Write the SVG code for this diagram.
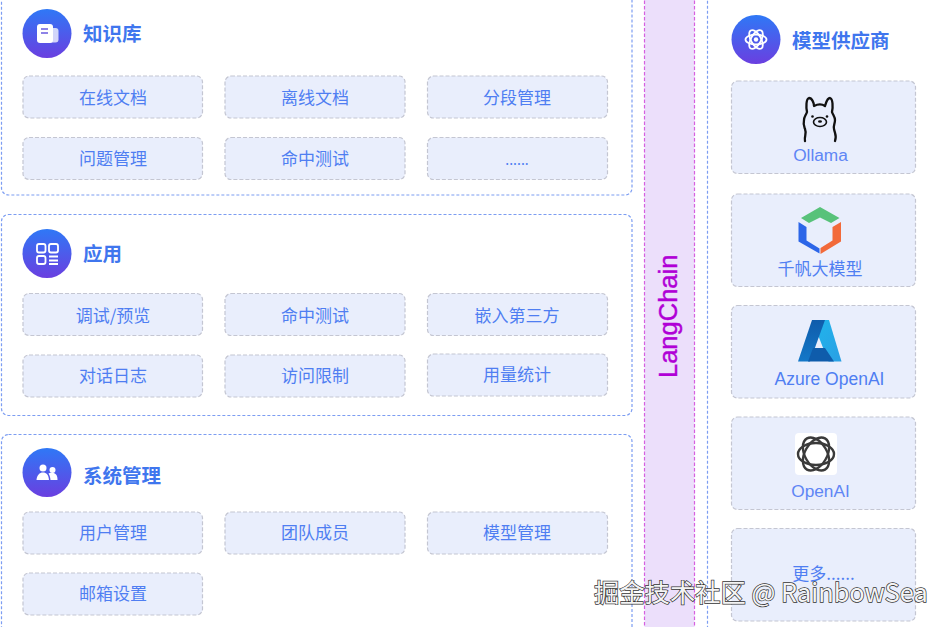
<svg xmlns="http://www.w3.org/2000/svg" width="947" height="627" viewBox="0 0 947 627">
<style>
text{font-family:"Liberation Sans","Noto Sans CJK SC",sans-serif}
.panel{fill:#fff;stroke:#7c9df2;stroke-width:1.200;stroke-dasharray:3 2}
.box{fill:#e9eefc;stroke:#c4c6d2;stroke-width:1.200;stroke-dasharray:4 2}
.t{font-size:17px;fill:#4f7ef2;text-anchor:middle;font-family:"Noto Sans CJK SC","Liberation Sans",sans-serif}
.l{font-size:17.300px;fill:#5f86f5;text-anchor:middle;font-family:"Liberation Sans",sans-serif}
.h{font-size:19.500px;font-weight:700;fill:#3f76ee;font-family:"Noto Sans CJK SC","Liberation Sans",sans-serif}
.ic{fill:none;stroke:#fff;stroke-width:1.800}
</style>
<defs>
<linearGradient id="g" x1="0" y1="0" x2="0" y2="1"><stop offset="0" stop-color="#2f78f6"/><stop offset="1" stop-color="#6a3fe0"/></linearGradient>
<linearGradient id="az" x1="0" y1="0" x2="0" y2="1"><stop offset="0" stop-color="#0f5cab"/><stop offset="1" stop-color="#1478c8"/></linearGradient>
<linearGradient id="az2" x1="0" y1="0" x2="1" y2="1"><stop offset="0" stop-color="#1fb6ec"/><stop offset="1" stop-color="#2a9fe4"/></linearGradient>
</defs>
<rect width="947" height="627" fill="#fff"/>
<g id="connectors"></g>
<g id="panel-kb"><rect class="panel" x="1.500" y="-20" width="630.500" height="215" rx="7"/>
<circle cx="47" cy="33.500" r="24.500" fill="url(#g)"/>
<rect x="43" y="28" width="15.500" height="14.500" rx="3" fill="#fff" opacity=".75"/><rect x="37" y="24" width="16" height="19" rx="3" fill="#fff"/><path d="M41 29h7M41 33h7" stroke="#6a5be0" stroke-width="1.500"/>
<text class="h" x="83" y="40.500">知识库</text></g>
<g id="n1"><rect class="box" x="23" y="76" width="179.500" height="42" rx="6"/><text class="t" x="113" y="103.500">在线文档</text></g>
<g id="n2"><rect class="box" x="225" y="76" width="180" height="42" rx="6"/><text class="t" x="315" y="103.500">离线文档</text></g>
<g id="n3"><rect class="box" x="427.500" y="76" width="180" height="42" rx="6"/><text class="t" x="517" y="103.500">分段管理</text></g>
<g id="n4"><rect class="box" x="23" y="137.500" width="179.500" height="42" rx="6"/><text class="t" x="113" y="165">问题管理</text></g>
<g id="n5"><rect class="box" x="225" y="137.500" width="180" height="42" rx="6"/><text class="t" x="315" y="165">命中测试</text></g>
<g id="n6"><rect class="box" x="427.500" y="137.500" width="180" height="42" rx="6"/><text class="t" x="517" y="165" style="font-size:14px">......</text></g>
<g id="panel-app"><rect class="panel" x="1.500" y="214.500" width="630.500" height="201" rx="7"/>
<circle cx="47" cy="253.500" r="24.500" fill="url(#g)"/>
<g class="ic"><rect x="37" y="244" width="8.500" height="8.500" rx="2"/><rect x="49" y="244" width="9" height="8.500" rx="2"/><rect x="37" y="256" width="8.500" height="8" rx="2"/><path d="M49 256.500h9M49 260.500h9M49 264h9"/></g>
<text class="h" x="83" y="260.500">应用</text></g>
<g id="n7"><rect class="box" x="23" y="293.500" width="179.500" height="42" rx="6"/><text class="t" x="113" y="321.500">调试/预览</text></g>
<g id="n8"><rect class="box" x="225" y="293.500" width="180" height="42" rx="6"/><text class="t" x="315" y="321.500">命中测试</text></g>
<g id="n9"><rect class="box" x="427.500" y="293.500" width="180" height="42" rx="6"/><text class="t" x="517" y="321.500">嵌入第三方</text></g>
<g id="n10"><rect class="box" x="23" y="355" width="179.500" height="42" rx="6"/><text class="t" x="113" y="382">对话日志</text></g>
<g id="n11"><rect class="box" x="225" y="355" width="180" height="42" rx="6"/><text class="t" x="315" y="382">访问限制</text></g>
<g id="n12"><rect class="box" x="427.500" y="354" width="180" height="42" rx="6"/><text class="t" x="517" y="381">用量统计</text></g>
<g id="panel-sys"><rect class="panel" x="1.500" y="434.500" width="630.500" height="220" rx="7"/>
<circle cx="47" cy="472.500" r="24.500" fill="url(#g)"/>
<g fill="#fff"><circle cx="43" cy="468" r="3.500"/><circle cx="52.500" cy="470" r="3"/><path d="M36.500 480c.5-5 3-7.500 6.500-7.500s5.500 2 6 7.500zM50.500 480c-.2-3-1-5-2-6.500 1.500-1 6-1.500 8 1.500 .8 1.500 1 3 1 5z"/></g>
<text class="h" x="83" y="483">系统管理</text></g>
<g id="n13"><rect class="box" x="23" y="512" width="179.500" height="42" rx="6"/><text class="t" x="113" y="539">用户管理</text></g>
<g id="n14"><rect class="box" x="225" y="512" width="180" height="42" rx="6"/><text class="t" x="315" y="539">团队成员</text></g>
<g id="n15"><rect class="box" x="427.500" y="512" width="180" height="42" rx="6"/><text class="t" x="517" y="539">模型管理</text></g>
<g id="n16"><rect class="box" x="23" y="573" width="179.500" height="42" rx="6"/><text class="t" x="113" y="600">邮箱设置</text></g>
<g id="langchain"><rect x="644.500" y="-10" width="50" height="650" fill="#ecdffb" stroke="#d65fe0" stroke-width="1.200" stroke-dasharray="3.500 2"/>
<text transform="translate(677,378) rotate(-90)" font-size="25.500" fill="#b000d6" stroke="#b000d6" stroke-width=".4">LangChain</text></g>
<g id="panel-model"><rect class="panel" x="707.500" y="-20" width="260" height="670" rx="7"/>
<circle cx="756" cy="39.500" r="24.500" fill="url(#g)"/>
<g fill="none" stroke="#fff" stroke-width="1.800"><ellipse cx="756" cy="39.500" rx="10.500" ry="5"/><ellipse cx="756" cy="39.500" rx="10.500" ry="5" transform="rotate(60 756 39.500)"/><ellipse cx="756" cy="39.500" rx="10.500" ry="5" transform="rotate(120 756 39.500)"/></g><circle cx="756" cy="39.500" r="2.200" fill="#fff"/>
<text class="h" x="792" y="47.500">模型供应商</text></g>
<g id="m1"><rect class="box" x="731.500" y="81" width="184" height="92.500" rx="6"/>
<g fill="none" stroke="#111" stroke-width="2.300" stroke-linejoin="round" stroke-linecap="round"><path d="M805 141c-1-5 2-7 0-12-1-3-2-5-1-9 0-3 2-5 3-8-1-5-1-13 2-14 3 0 5 5 5 8 4-2 8-2 11 0 1-3 2-8 5-8 3 1 3 9 2 14 1 3 3 5 3 8 0 4-2 6-1 9 1 5 3 7 1 12"/><ellipse cx="820" cy="122" rx="6.500" ry="4.500" stroke-width="1.600"/></g><circle cx="812.500" cy="116.500" r="1.300" fill="#111"/><circle cx="827" cy="116.500" r="1.300" fill="#111"/><ellipse cx="820" cy="121.500" rx="2" ry="1.200" fill="#111"/>
<text class="l" x="820.500" y="160.500">Ollama</text></g>
<g id="m2"><rect class="box" x="731.500" y="194" width="184" height="92.500" rx="6"/>
<path d="M820 207l19.500 11-8.500 5-11-5.500-11 5.500-8-5z" fill="#58c27a"/><path d="M798.500 222l8 5v13.500l13 8v5l-21-12z" fill="#2c66e8"/><path d="M841 222v19.500l-20.500 12.500v-6l12-7.500v-13.500z" fill="#f26a3a"/>
<text class="t" x="820" y="275">千帆大模型</text></g>
<g id="m3"><rect class="box" x="731.500" y="305.500" width="184" height="92.500" rx="6"/>
<path d="M812 320h17l12.500 41.500h-13z" fill="url(#az2)"/><path d="M812 320h13l-15 41.500h-12z" fill="url(#az)"/><path d="M813 348h12l9 13.500h-26z" fill="#0f5cab"/>
<text class="l" x="829.500" y="385" style="font-size:17.500px;fill:#4f7ef2">Azure OpenAI</text></g>
<g id="m4"><rect class="box" x="731.500" y="417" width="184" height="92.500" rx="6"/>
<rect x="795" y="433" width="42" height="42" rx="4" fill="#fff"/>
<g fill="none" stroke="#3a3a3a" stroke-width="2.400"><ellipse cx="816" cy="454" rx="18" ry="11"/><ellipse cx="816" cy="454" rx="18" ry="11" transform="rotate(60 816 454)"/><ellipse cx="816" cy="454" rx="18" ry="11" transform="rotate(120 816 454)"/></g>
<text class="l" x="820.500" y="496.500">OpenAI</text></g>
<g id="m5"><rect class="box" x="731.500" y="528.500" width="184" height="92.500" rx="6"/><text class="t" x="823.500" y="579.500">更多......</text></g>
<g id="watermark"><text x="594" y="602" font-size="25.300" fill="#f4f4f4" stroke="#333" stroke-width="1.400" paint-order="stroke" style="font-family:'Noto Sans CJK SC','Liberation Sans',sans-serif">掘金技术社区 @ RainbowSea</text></g>
</svg>
